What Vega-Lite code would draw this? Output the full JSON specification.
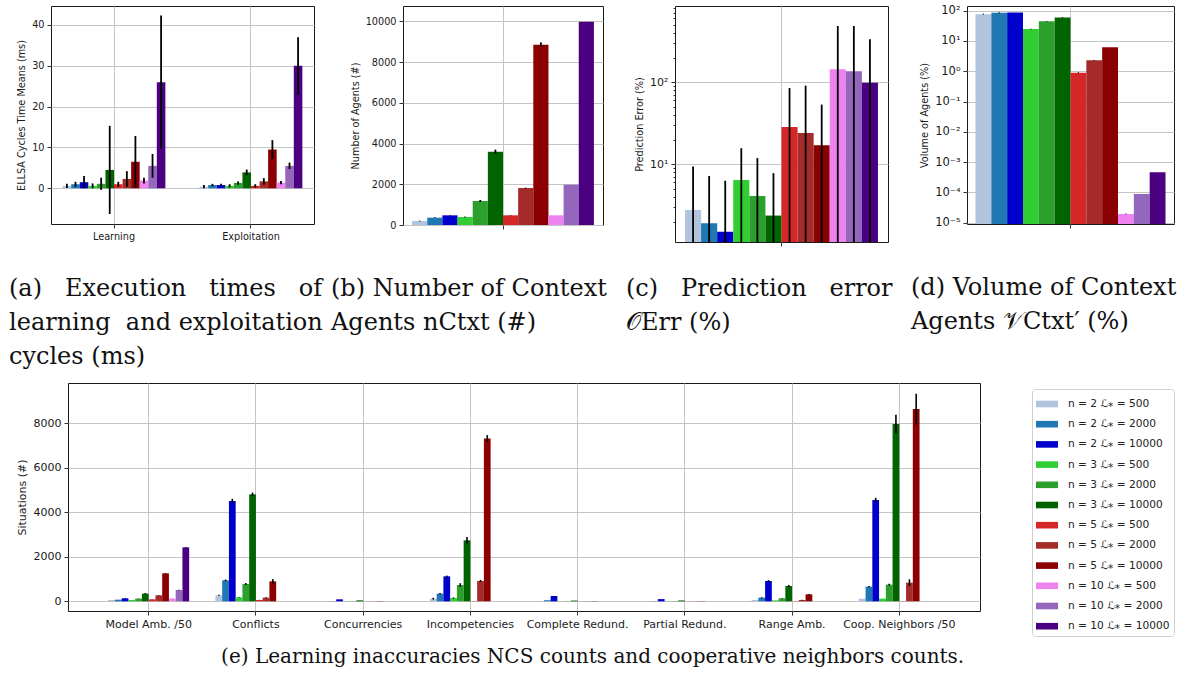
{
"$schema": "https://vega.github.io/schema/vega-lite/v6.json",
"background": "white",
"padding": {"left": 8, "top": 1, "right": 2, "bottom": 2},
"datasets": {
"a": [
{"g":"Learning","s":"2/500","v":0.6,"lo":0.1,"hi":1.1},
{"g":"Learning","s":"2/2000","v":1.0,"lo":0.4,"hi":1.6},
{"g":"Learning","s":"2/10000","v":1.5,"lo":0.0,"hi":3.0},
{"g":"Learning","s":"3/500","v":0.6,"lo":0.0,"hi":1.2},
{"g":"Learning","s":"3/2000","v":1.1,"lo":-0.4,"hi":2.6},
{"g":"Learning","s":"3/10000","v":4.5,"lo":-6.3,"hi":15.3},
{"g":"Learning","s":"5/500","v":1.0,"lo":0.4,"hi":1.6},
{"g":"Learning","s":"5/2000","v":2.3,"lo":0.4,"hi":4.2},
{"g":"Learning","s":"5/10000","v":6.5,"lo":0.2,"hi":12.8},
{"g":"Learning","s":"10/500","v":1.9,"lo":1.2,"hi":2.6},
{"g":"Learning","s":"10/2000","v":5.5,"lo":2.6,"hi":8.4},
{"g":"Learning","s":"10/10000","v":26.0,"lo":9.7,"hi":42.3},
{"g":"Exploitation","s":"2/500","v":0.4,"lo":0.0,"hi":0.8},
{"g":"Exploitation","s":"2/2000","v":0.8,"lo":0.5,"hi":1.1},
{"g":"Exploitation","s":"2/10000","v":0.8,"lo":0.5,"hi":1.1},
{"g":"Exploitation","s":"3/500","v":0.6,"lo":0.2,"hi":1.0},
{"g":"Exploitation","s":"3/2000","v":1.3,"lo":0.9,"hi":1.7},
{"g":"Exploitation","s":"3/10000","v":3.9,"lo":3.2,"hi":4.6},
{"g":"Exploitation","s":"5/500","v":0.6,"lo":0.2,"hi":1.0},
{"g":"Exploitation","s":"5/2000","v":1.7,"lo":0.9,"hi":2.5},
{"g":"Exploitation","s":"5/10000","v":9.5,"lo":7.2,"hi":11.8},
{"g":"Exploitation","s":"10/500","v":1.4,"lo":1.0,"hi":1.8},
{"g":"Exploitation","s":"10/2000","v":5.5,"lo":4.7,"hi":6.3},
{"g":"Exploitation","s":"10/10000","v":30.0,"lo":23.0,"hi":37.0}
],
"b": [
{"g":"all","s":"2/500","v":196,"lo":180,"hi":212},
{"g":"all","s":"2/2000","v":360,"lo":345,"hi":375},
{"g":"all","s":"2/10000","v":475,"lo":465,"hi":485},
{"g":"all","s":"3/500","v":393,"lo":373,"hi":413},
{"g":"all","s":"3/2000","v":1178,"lo":1128,"hi":1228},
{"g":"all","s":"3/10000","v":3600,"lo":3500,"hi":3700},
{"g":"all","s":"5/500","v":475,"lo":465,"hi":485},
{"g":"all","s":"5/2000","v":1817,"lo":1800,"hi":1834},
{"g":"all","s":"5/10000","v":8854,"lo":8744,"hi":8964},
{"g":"all","s":"10/500","v":475,"lo":475,"hi":475},
{"g":"all","s":"10/2000","v":1980,"lo":1980,"hi":1980},
{"g":"all","s":"10/10000","v":9983,"lo":9983,"hi":9983}
],
"c": [
{"g":"all","s":"2/500","v":2.77,"lo":1,"hi":9.4},
{"g":"all","s":"2/2000","v":1.91,"lo":1,"hi":7.2},
{"g":"all","s":"2/10000","v":1.5,"lo":1,"hi":6.3},
{"g":"all","s":"3/500","v":6.44,"lo":1,"hi":15.7},
{"g":"all","s":"3/2000","v":4.11,"lo":1,"hi":11.9},
{"g":"all","s":"3/10000","v":2.37,"lo":1,"hi":7.8},
{"g":"all","s":"5/500","v":28.5,"lo":1,"hi":85},
{"g":"all","s":"5/2000","v":24.1,"lo":1,"hi":91},
{"g":"all","s":"5/10000","v":17.1,"lo":1,"hi":53.5},
{"g":"all","s":"10/500","v":144,"lo":1,"hi":486},
{"g":"all","s":"10/2000","v":136,"lo":1,"hi":486},
{"g":"all","s":"10/10000","v":99,"lo":1,"hi":334}
],
"d": [
{"g":"all","s":"2/500","v":77,"lo":74,"hi":80},
{"g":"all","s":"2/2000","v":86,"lo":83,"hi":89},
{"g":"all","s":"2/10000","v":87,"lo":87,"hi":87},
{"g":"all","s":"3/500","v":24.8,"lo":24,"hi":25.6},
{"g":"all","s":"3/2000","v":44.5,"lo":43,"hi":46},
{"g":"all","s":"3/10000","v":60,"lo":58,"hi":62},
{"g":"all","s":"5/500","v":0.9,"lo":0.87,"hi":0.93},
{"g":"all","s":"5/2000","v":2.3,"lo":2.23,"hi":2.37},
{"g":"all","s":"5/10000","v":6.2,"lo":6.2,"hi":6.2},
{"g":"all","s":"10/500","v":0.0000195,"lo":0.0000189,"hi":0.0000201},
{"g":"all","s":"10/2000","v":0.000089,"lo":0.000089,"hi":0.000089},
{"g":"all","s":"10/10000","v":0.00046,"lo":0.00046,"hi":0.00046}
],
"e": [
{"g":"Model Amb. /50","s":"2/500","v":60,"lo":60,"hi":60},
{"g":"Model Amb. /50","s":"2/2000","v":75,"lo":75,"hi":75},
{"g":"Model Amb. /50","s":"2/10000","v":135,"lo":125,"hi":145},
{"g":"Model Amb. /50","s":"3/500","v":60,"lo":55,"hi":65},
{"g":"Model Amb. /50","s":"3/2000","v":120,"lo":112,"hi":128},
{"g":"Model Amb. /50","s":"3/10000","v":345,"lo":320,"hi":370},
{"g":"Model Amb. /50","s":"5/500","v":90,"lo":85,"hi":95},
{"g":"Model Amb. /50","s":"5/2000","v":270,"lo":260,"hi":280},
{"g":"Model Amb. /50","s":"5/10000","v":1256,"lo":1241,"hi":1271},
{"g":"Model Amb. /50","s":"10/500","v":120,"lo":115,"hi":125},
{"g":"Model Amb. /50","s":"10/2000","v":508,"lo":498,"hi":518},
{"g":"Model Amb. /50","s":"10/10000","v":2422,"lo":2407,"hi":2437},
{"g":"Conflicts","s":"2/500","v":270,"lo":250,"hi":290},
{"g":"Conflicts","s":"2/2000","v":942,"lo":907,"hi":977},
{"g":"Conflicts","s":"2/10000","v":4500,"lo":4400,"hi":4600},
{"g":"Conflicts","s":"3/500","v":180,"lo":170,"hi":190},
{"g":"Conflicts","s":"3/2000","v":777,"lo":737,"hi":817},
{"g":"Conflicts","s":"3/10000","v":4800,"lo":4720,"hi":4880},
{"g":"Conflicts","s":"5/500","v":60,"lo":55,"hi":65},
{"g":"Conflicts","s":"5/2000","v":165,"lo":145,"hi":185},
{"g":"Conflicts","s":"5/10000","v":897,"lo":797,"hi":997},
{"g":"Concurrencies","s":"2/500","v":5,"lo":5,"hi":5},
{"g":"Concurrencies","s":"2/2000","v":10,"lo":10,"hi":10},
{"g":"Concurrencies","s":"2/10000","v":90,"lo":90,"hi":90},
{"g":"Concurrencies","s":"3/500","v":5,"lo":5,"hi":5},
{"g":"Concurrencies","s":"3/2000","v":10,"lo":10,"hi":10},
{"g":"Concurrencies","s":"3/10000","v":45,"lo":45,"hi":45},
{"g":"Concurrencies","s":"5/500","v":3,"lo":3,"hi":3},
{"g":"Concurrencies","s":"5/2000","v":5,"lo":5,"hi":5},
{"g":"Concurrencies","s":"5/10000","v":10,"lo":10,"hi":10},
{"g":"Incompetencies","s":"2/500","v":120,"lo":80,"hi":160},
{"g":"Incompetencies","s":"2/2000","v":345,"lo":320,"hi":370},
{"g":"Incompetencies","s":"2/10000","v":1121,"lo":1086,"hi":1156},
{"g":"Incompetencies","s":"3/500","v":150,"lo":125,"hi":175},
{"g":"Incompetencies","s":"3/2000","v":733,"lo":653,"hi":813},
{"g":"Incompetencies","s":"3/10000","v":2736,"lo":2586,"hi":2886},
{"g":"Incompetencies","s":"5/500","v":10,"lo":10,"hi":10},
{"g":"Incompetencies","s":"5/2000","v":912,"lo":862,"hi":962},
{"g":"Incompetencies","s":"5/10000","v":7310,"lo":7160,"hi":7460},
{"g":"Complete Redund.","s":"2/500","v":5,"lo":5,"hi":5},
{"g":"Complete Redund.","s":"2/2000","v":50,"lo":50,"hi":50},
{"g":"Complete Redund.","s":"2/10000","v":240,"lo":240,"hi":240},
{"g":"Complete Redund.","s":"3/500","v":5,"lo":5,"hi":5},
{"g":"Complete Redund.","s":"3/2000","v":10,"lo":10,"hi":10},
{"g":"Complete Redund.","s":"3/10000","v":35,"lo":35,"hi":35},
{"g":"Complete Redund.","s":"5/500","v":3,"lo":3,"hi":3},
{"g":"Complete Redund.","s":"5/2000","v":5,"lo":5,"hi":5},
{"g":"Complete Redund.","s":"5/10000","v":10,"lo":10,"hi":10},
{"g":"Partial Redund.","s":"2/500","v":5,"lo":5,"hi":5},
{"g":"Partial Redund.","s":"2/2000","v":10,"lo":10,"hi":10},
{"g":"Partial Redund.","s":"2/10000","v":100,"lo":100,"hi":100},
{"g":"Partial Redund.","s":"3/500","v":5,"lo":5,"hi":5},
{"g":"Partial Redund.","s":"3/2000","v":10,"lo":10,"hi":10},
{"g":"Partial Redund.","s":"3/10000","v":40,"lo":40,"hi":40},
{"g":"Partial Redund.","s":"5/500","v":3,"lo":3,"hi":3},
{"g":"Partial Redund.","s":"5/2000","v":5,"lo":5,"hi":5},
{"g":"Partial Redund.","s":"5/10000","v":10,"lo":10,"hi":10},
{"g":"Range Amb.","s":"2/500","v":60,"lo":60,"hi":60},
{"g":"Range Amb.","s":"2/2000","v":165,"lo":145,"hi":185},
{"g":"Range Amb.","s":"2/10000","v":912,"lo":872,"hi":952},
{"g":"Range Amb.","s":"3/500","v":45,"lo":45,"hi":45},
{"g":"Range Amb.","s":"3/2000","v":135,"lo":125,"hi":145},
{"g":"Range Amb.","s":"3/10000","v":688,"lo":643,"hi":733},
{"g":"Range Amb.","s":"5/500","v":10,"lo":10,"hi":10},
{"g":"Range Amb.","s":"5/2000","v":60,"lo":50,"hi":70},
{"g":"Range Amb.","s":"5/10000","v":314,"lo":294,"hi":334},
{"g":"Coop. Neighbors /50","s":"2/500","v":120,"lo":120,"hi":120},
{"g":"Coop. Neighbors /50","s":"2/2000","v":658,"lo":628,"hi":688},
{"g":"Coop. Neighbors /50","s":"2/10000","v":4545,"lo":4445,"hi":4645},
{"g":"Coop. Neighbors /50","s":"3/500","v":120,"lo":120,"hi":120},
{"g":"Coop. Neighbors /50","s":"3/2000","v":748,"lo":708,"hi":788},
{"g":"Coop. Neighbors /50","s":"3/10000","v":7953,"lo":7533,"hi":8373},
{"g":"Coop. Neighbors /50","s":"5/500","v":10,"lo":10,"hi":10},
{"g":"Coop. Neighbors /50","s":"5/2000","v":837,"lo":687,"hi":987},
{"g":"Coop. Neighbors /50","s":"5/10000","v":8626,"lo":7936,"hi":9316}
]
},
"title": {"text": "(e) Learning inaccuracies NCS counts and cooperative neighbors counts.", "anchor": "middle", "frame": "bounds", "offset": 10, "fontSize": 20},
"vconcat": [
{
"hconcat": [
{
 "width": 263, "height": 218,
 "data": {"name": "a"},
 "title": {"text": ["(a)\u00a0\u00a0\u00a0Execution\u00a0\u00a0\u00a0times\u00a0\u00a0\u00a0of", "learning\u00a0\u00a0and\u00a0exploitation", "cycles (ms)"], "dx": -42, "offset": 36},
 "encoding": {
  "x": {"field": "g", "type": "nominal", "scale": {"domain": ["Learning", "Exploitation"], "paddingInner": 0.25, "paddingOuter": 0.085}, "axis": {"title": null, "labelAngle": 0}},
  "xOffset": {"field": "s", "type": "nominal", "scale": {"domain": ["2/500","2/2000","2/10000","3/500","3/2000","3/10000","5/500","5/2000","5/10000","10/500","10/2000","10/10000"], "paddingInner": 0, "paddingOuter": 0}}
 },
 "layer": [
  {"mark": {"type": "bar"}, "encoding": {
   "y": {"field": "v", "type": "quantitative", "scale": {"domain": [-8.74, 44.65], "nice": false, "zero": false}, "axis": {"title": "ELLSA Cycles Time Means (ms)", "values": [0, 10, 20, 30, 40]}},
   "color": {"field": "s", "type": "nominal", "scale": {"domain": ["2/500","2/2000","2/10000","3/500","3/2000","3/10000","5/500","5/2000","5/10000","10/500","10/2000","10/10000"], "range": ["#b0c4de","#1f77b4","#0000cd","#32cd32","#2ca02c","#006400","#d62728","#a52a2a","#8b0000","#ee82ee","#9467bd","#4b0082"]}, "legend": null}}},
  {"mark": {"type": "rule", "color": "black", "strokeWidth": 1.8}, "encoding": {
   "y": {"field": "lo", "type": "quantitative", "scale": {"domain": [-8.74, 44.65], "nice": false, "zero": false}, "axis": {"title": "ELLSA Cycles Time Means (ms)", "values": [0, 10, 20, 30, 40]}},
   "y2": {"field": "hi"}}}
 ]
},
{"width": 89, "height": 1, "data": {"values": [{}]}, "mark": {"type": "point", "opacity": 0}, "encoding": {}, "view": {"stroke": null}},
{
 "width": 200, "height": 219,
 "data": {"name": "b"},
 "title": {"text": ["(b) Number of Context", "Agents nCtxt (#)"], "dx": -72, "offset": 47},
 "encoding": {
  "x": {"field": "g", "type": "nominal", "scale": {"paddingInner": 0, "paddingOuter": 0.05}, "axis": {"title": null, "labels": false}},
  "xOffset": {"field": "s", "type": "nominal", "scale": {"domain": ["2/500","2/2000","2/10000","3/500","3/2000","3/10000","5/500","5/2000","5/10000","10/500","10/2000","10/10000"], "paddingInner": 0, "paddingOuter": 0}}
 },
 "layer": [
  {"mark": {"type": "bar"}, "encoding": {
   "y": {"field": "v", "type": "quantitative", "scale": {"domain": [0, 10751], "nice": false}, "axis": {"title": "Number of Agents (#)", "values": [0, 2000, 4000, 6000, 8000, 10000], "format": "d"}},
   "color": {"field": "s", "type": "nominal", "scale": {"domain": ["2/500","2/2000","2/10000","3/500","3/2000","3/10000","5/500","5/2000","5/10000","10/500","10/2000","10/10000"], "range": ["#b0c4de","#1f77b4","#0000cd","#32cd32","#2ca02c","#006400","#d62728","#a52a2a","#8b0000","#ee82ee","#9467bd","#4b0082"]}, "legend": null}}},
  {"mark": {"type": "rule", "color": "black", "strokeWidth": 1.8}, "encoding": {
   "y": {"field": "lo", "type": "quantitative", "scale": {"domain": [0, 10751], "nice": false}, "axis": {"title": "Number of Agents (#)", "values": [0, 2000, 4000, 6000, 8000, 10000], "format": "d"}},
   "y2": {"field": "hi"}}}
 ]
},
{"width": 72, "height": 1, "data": {"values": [{}]}, "mark": {"type": "point", "opacity": 0}, "encoding": {}, "view": {"stroke": null}},
{
 "width": 213, "height": 236,
 "data": {"name": "c"},
 "title": {"text": ["(c)\u00a0\u00a0\u00a0Prediction\u00a0\u00a0\u00a0error", "𝒪Err (%)"], "dx": -49, "offset": 31},
 "encoding": {
  "x": {"field": "g", "type": "nominal", "scale": {"paddingInner": 0, "paddingOuter": 0.052}, "axis": {"title": null, "labels": false}},
  "xOffset": {"field": "s", "type": "nominal", "scale": {"domain": ["2/500","2/2000","2/10000","3/500","3/2000","3/10000","5/500","5/2000","5/10000","10/500","10/2000","10/10000"], "paddingInner": 0, "paddingOuter": 0}}
 },
 "layer": [
  {"mark": {"type": "bar", "clip": true}, "encoding": {
   "y": {"field": "v", "type": "quantitative", "scale": {"type": "log", "domain": [1.128, 852], "nice": false}, "axis": {"title": "Prediction Error (%)", "labelFontSize": 11, "values": [2,3,4,5,6,7,8,9,10,20,30,40,50,60,70,80,90,100,200,300,400,500,600,700,800], "labelExpr": "datum.value == 10 ? '10¹' : datum.value == 100 ? '10²' : ''", "tickSize": {"condition": {"test": "datum.value == 10 || datum.value == 100", "value": 4}, "value": 2}, "gridOpacity": {"condition": {"test": "datum.value == 10 || datum.value == 100", "value": 1}, "value": 0}}},
   "y2": {"datum": 1.128},
   "color": {"field": "s", "type": "nominal", "scale": {"domain": ["2/500","2/2000","2/10000","3/500","3/2000","3/10000","5/500","5/2000","5/10000","10/500","10/2000","10/10000"], "range": ["#b0c4de","#1f77b4","#0000cd","#32cd32","#2ca02c","#006400","#d62728","#a52a2a","#8b0000","#ee82ee","#9467bd","#4b0082"]}, "legend": null}}},
  {"mark": {"type": "rule", "color": "black", "strokeWidth": 1.8, "clip": true}, "encoding": {
   "y": {"field": "lo", "type": "quantitative", "scale": {"type": "log", "domain": [1.128, 852], "nice": false}},
   "y2": {"field": "hi"}}}
 ]
},
{"width": 79, "height": 1, "data": {"values": [{}]}, "mark": {"type": "point", "opacity": 0}, "encoding": {}, "view": {"stroke": null}},
{
 "width": 207, "height": 218,
 "data": {"name": "d"},
 "title": {"text": ["(d) Volume of Context", "Agents 𝒱Ctxt′ (%)"], "dx": -56, "offset": 48},
 "encoding": {
  "x": {"field": "g", "type": "nominal", "scale": {"paddingInner": 0, "paddingOuter": 0.0447}, "axis": {"title": null, "labels": false}},
  "xOffset": {"field": "s", "type": "nominal", "scale": {"domain": ["2/500","2/2000","2/10000","3/500","3/2000","3/10000","5/500","5/2000","5/10000","10/500","10/2000","10/10000"], "paddingInner": 0, "paddingOuter": 0}}
 },
 "layer": [
  {"mark": {"type": "bar", "clip": true}, "encoding": {
   "y": {"field": "v", "type": "quantitative", "scale": {"type": "log", "domain": [0.00000906, 143], "nice": false}, "axis": {"title": "Volume of Agents (%)", "labelFontSize": 11.5, "values": [0.00001, 0.0001, 0.001, 0.01, 0.1, 1, 10, 100], "labelExpr": "datum.value >= 99 ? '10²' : datum.value >= 9.9 ? '10¹' : datum.value >= 0.99 ? '10⁰' : datum.value >= 0.099 ? '10⁻¹' : datum.value >= 0.0099 ? '10⁻²' : datum.value >= 0.00099 ? '10⁻³' : datum.value >= 0.000099 ? '10⁻⁴' : '10⁻⁵'"}},
   "y2": {"datum": 0.00000906},
   "color": {"field": "s", "type": "nominal", "scale": {"domain": ["2/500","2/2000","2/10000","3/500","3/2000","3/10000","5/500","5/2000","5/10000","10/500","10/2000","10/10000"], "range": ["#b0c4de","#1f77b4","#0000cd","#32cd32","#2ca02c","#006400","#d62728","#a52a2a","#8b0000","#ee82ee","#9467bd","#4b0082"]}, "legend": null}}},
  {"mark": {"type": "rule", "color": "black", "strokeWidth": 1.2, "clip": true}, "encoding": {
   "y": {"field": "lo", "type": "quantitative", "scale": {"type": "log", "domain": [0.00000906, 143], "nice": false}},
   "y2": {"field": "hi"}}}
 ]
}
],
"spacing": 0,
"bounds": "flush",
"resolve": {"scale": {"color": "independent", "xOffset": "independent"}}
},
{
"hconcat": [
{"width": 17, "height": 1, "data": {"values": [{}]}, "mark": {"type": "point", "opacity": 0}, "encoding": {}, "view": {"stroke": null}},
{
 "width": 912, "height": 228,
 "data": {"name": "e"},
 "encoding": {
  "x": {"field": "g", "type": "nominal", "scale": {"domain": ["Model Amb. /50", "Conflicts", "Concurrencies", "Incompetencies", "Complete Redund.", "Partial Redund.", "Range Amb.", "Coop. Neighbors /50"], "paddingInner": 0.245, "paddingOuter": 0.375}, "axis": {"title": null, "labelAngle": 0, "labelFontSize": 11, "labelOverlap": false}},
  "xOffset": {"field": "s", "type": "nominal", "scale": {"domain": ["2/500","2/2000","2/10000","3/500","3/2000","3/10000","5/500","5/2000","5/10000","10/500","10/2000","10/10000"], "paddingInner": 0, "paddingOuter": 0}}
 },
 "layer": [
  {"mark": {"type": "bar"}, "encoding": {
   "y": {"field": "v", "type": "quantitative", "scale": {"domain": [-434, 9795], "nice": false, "zero": false}, "axis": {"title": "Situations (#)", "titleFontSize": 11, "labelFontSize": 11, "values": [0, 2000, 4000, 6000, 8000], "format": "d", "titlePadding": 6}},
   "color": {"field": "s", "type": "nominal", "scale": {"domain": ["2/500","2/2000","2/10000","3/500","3/2000","3/10000","5/500","5/2000","5/10000","10/500","10/2000","10/10000"], "range": ["#b0c4de","#1f77b4","#0000cd","#32cd32","#2ca02c","#006400","#d62728","#a52a2a","#8b0000","#ee82ee","#9467bd","#4b0082"]},
    "legend": {"title": null, "orient": "none", "legendX": 964, "legendY": 6, "strokeColor": "#d0d0d0", "fillColor": "white", "cornerRadius": 3, "padding": 4, "labelFont": "DejaVu Sans", "labelFontSize": 10.6, "labelColor": "#222", "symbolType": "M-1,-0.3H1V0.3H-1Z", "symbolSize": 484, "symbolStrokeWidth": 0, "symbolOpacity": 1, "labelOffset": 10, "rowPadding": 3.2, "labelExpr": "'n = ' + replace(datum.label, '/', ' ℒ⁎ = ')"}}}},
  {"mark": {"type": "rule", "color": "black", "strokeWidth": 1.6}, "encoding": {
   "y": {"field": "lo", "type": "quantitative", "scale": {"domain": [-434, 9795], "nice": false, "zero": false}, "axis": {"title": "Situations (#)", "titleFontSize": 11, "labelFontSize": 11, "values": [0, 2000, 4000, 6000, 8000], "format": "d", "titlePadding": 6}},
   "y2": {"field": "hi"}}}
 ]
}
],
"spacing": 0,
"bounds": "flush",
"resolve": {"scale": {"color": "independent", "xOffset": "independent"}}
}
],
"spacing": 10,
"bounds": "full",
"resolve": {"scale": {"color": "independent", "xOffset": "independent"}},
"config": {
 "view": {"stroke": "#1a1a1a", "strokeWidth": 1},
 "axis": {"labelFont": "DejaVu Sans", "titleFont": "DejaVu Sans", "labelFontSize": 9.7, "titleFontSize": 9.7, "titleFontWeight": "normal", "labelColor": "#1a1a1a", "titleColor": "#1a1a1a", "tickColor": "#1a1a1a", "tickSize": 4, "tickWidth": 0.9, "labelPadding": 3, "titlePadding": 5, "domain": false, "grid": true, "gridColor": "#c4c4c4", "gridWidth": 1, "zindex": 1, "bandPosition": 0.5, "labelOverlap": false},
 "title": {"font": "DejaVu Serif", "fontSize": 24, "fontWeight": "normal", "color": "#111", "orient": "bottom", "anchor": "start", "frame": "group", "baseline": "alphabetic", "lineHeight": 34}
}
}
